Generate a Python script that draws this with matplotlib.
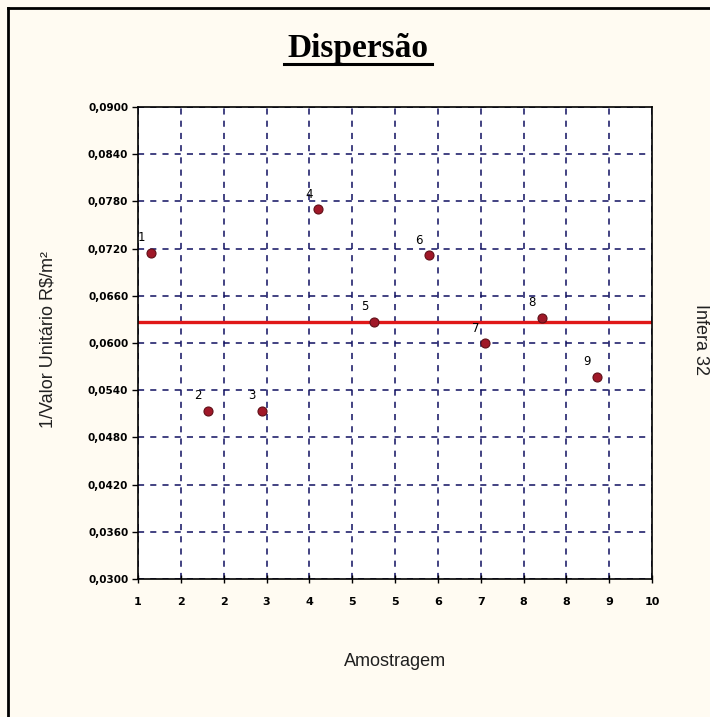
"""
Dispersão - 1/Valor Unitário por amostra
"""

import numpy as np
import matplotlib
matplotlib.use("Agg")
import matplotlib.pyplot as plt
from matplotlib.lines import Line2D

# Sample positions (as plotted) and 1/unit value
amostras = ["1", "2", "3", "4", "5", "6", "7", "8", "9"]
x_vals = [1.23, 2.22, 3.17, 4.16, 5.14, 6.09, 7.08, 8.07, 9.03]
y_vals = [0.0715, 0.0514, 0.0514, 0.0770, 0.0627, 0.0712, 0.0600, 0.0632, 0.0557]

# Axis tick labels as shown by the spreadsheet
x_ticks = [1, 1.75, 2.5, 3.25, 4, 4.75, 5.5, 6.25, 7, 7.75, 8.5, 9.25, 10]
x_tick_labels = ["1", "2", "2", "3", "4", "5", "5", "6", "7", "8", "8", "9", "10"]
y_ticks = [0.030, 0.036, 0.042, 0.048, 0.054, 0.060, 0.066, 0.072, 0.078, 0.084, 0.090]

media = np.mean(y_vals)

bg = "#fffbf2"

fig = plt.figure(figsize=(7.10, 7.17), dpi=100, facecolor=bg)
ax = fig.add_axes([0.1944, 0.1925, 0.7239, 0.6583])
ax.set_facecolor("white")

# Grid
for xt in x_ticks:
    ax.axvline(xt, color="#101060", linestyle=(0, (4, 4)), linewidth=1.1, zorder=1)
for yt in y_ticks:
    ax.axhline(yt, color="#101060", linestyle=(0, (4, 4)), linewidth=1.1, zorder=1)

# Mean line
ax.axhline(media, color="#e01818", linewidth=2.4, zorder=2)

# Points
ax.plot(
    x_vals, y_vals,
    linestyle="none",
    marker="o",
    markersize=6.5,
    markerfacecolor="#a01828",
    markeredgecolor="#601018",
    markeredgewidth=0.8,
    zorder=3
)

for lab, xv, yv in zip(amostras, x_vals, y_vals):
    ax.annotate(
        lab, (xv, yv),
        xytext=(-7, 6),
        textcoords="offset points",
        ha="center", va="bottom",
        fontsize=8.5, color="black",
        zorder=4
    )

ax.set_xlim(1, 10)
ax.set_ylim(0.030, 0.090)

ax.set_xticks(x_ticks)
ax.set_xticklabels(x_tick_labels)
ax.set_yticks(y_ticks)
ax.set_yticklabels([f"{v:.4f}".replace(".", ",") for v in y_ticks])

ax.tick_params(axis="x", direction="inout", length=6, labelsize=8, pad=10, width=1)
ax.tick_params(axis="y", direction="out", length=4, labelsize=7.5, pad=3, width=1)
for lbl in ax.get_xticklabels() + ax.get_yticklabels():
    lbl.set_fontweight("bold")
    lbl.set_fontfamily("Liberation Sans Narrow")

for spine in ax.spines.values():
    spine.set_color("black")
    spine.set_linewidth(1.2)

# Labels
fig.text(0.556, 0.077, "Amostragem", ha="center", va="center", fontsize=13,
         family="Liberation Sans", color="#202020")
fig.text(0.068, 0.527, "1/Valor Unitário R$/m²", ha="center", va="center",
         rotation=90, fontsize=13, family="Liberation Sans", color="#202020")
fig.text(0.986, 0.527, "Infera 32", ha="center", va="center",
         rotation=-90, fontsize=13, family="Liberation Sans", color="#202020")

# Title with underline
fig.text(0.504, 0.933, "Dispersão", ha="center", va="center",
         fontsize=24, fontweight="bold", family="Liberation Serif", color="black")
fig.add_artist(Line2D([0.400, 0.609], [0.911, 0.911], color="black", linewidth=2.2))

# Frame of the chart area (top and left)
fig.add_artist(Line2D([0.011, 1.0], [0.989, 0.989], color="black", linewidth=2))
fig.add_artist(Line2D([0.011, 0.011], [0.0, 0.989], color="black", linewidth=2))

fig.savefig("out.png", dpi=100, facecolor=bg)
